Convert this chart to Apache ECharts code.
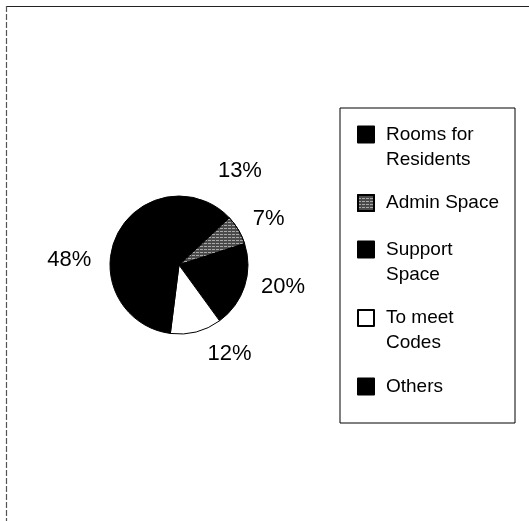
<!DOCTYPE html>
<html>
<head>
<meta charset="utf-8">
<script src="https://cdn.jsdelivr.net/npm/echarts@6/dist/echarts.min.js"></script>
<style>
  html, body { margin: 0; padding: 0; background: #ffffff; }
  #chart { width: 529px; height: 521px; }
</style>
</head>
<body>
<div id="chart"></div>
<script>
// Space allocation by use (percent of total floor area)
const categories = ['Rooms for Residents', 'Admin Space', 'Support Space', 'To meet Codes', 'Others'];
const legendLines = ['Rooms for\nResidents', 'Admin Space', 'Support\nSpace', 'To meet\nCodes', 'Others'];
const shares = [13, 7, 20, 12, 48];

const palette = ['#000000', '#4b4b4b', '#000000', '#ffffff', '#000000'];
const FONT = '"Liberation Sans", Arial, sans-serif';

const chart = echarts.init(document.getElementById('chart'), null, { renderer: 'canvas' });

const pieData = categories.map((name, i) => ({
  name: name,
  value: shares[i],
  itemStyle: i === 1
    ? {
        color: palette[i],
        decal: {
          symbol: 'rect',
          color: 'rgba(200,200,200,0.75)',
          symbolSize: 1,
          dashArrayX: [[3, 1]],
          dashArrayY: [1, 2]
        }
      }
    : { color: palette[i] }
}));

// small nudges of the percentage labels away from the pure radial spot
const labelShift = [[20, 0], [1, 6], [6, -10], [25, -11], [-7, 1]];

// Two-line legend entries: shift the text block so its first line sits beside the swatch
const legendData = categories.map((name, i) => ({
  name: name,
  textStyle: {
    padding: legendLines[i].indexOf('\n') >= 0 ? [0, 0, -25, 7] : [0, 0, 0, 7]
  }
}));

const option = {
  backgroundColor: '#ffffff',
  animation: false,
  graphic: [
    { type: 'line', silent: true, shape: { x1: 6, y1: 6.5, x2: 529, y2: 6.5 }, style: { stroke: '#222', lineWidth: 1.2 } },
    { type: 'line', silent: true, shape: { x1: 6.5, y1: 6, x2: 6.5, y2: 521 }, style: { stroke: '#555', lineWidth: 1.2, lineDash: [6, 2] } }
  ],
  legend: {
    orient: 'vertical',
    left: 340,
    top: 108,
    data: legendData,
    icon: 'rect',
    itemWidth: 16,
    itemHeight: 16,
    itemGap: 21.5,
    padding: [14, 16, 24, 17],
    borderColor: '#000000',
    borderWidth: 1,
    backgroundColor: '#ffffff',
    selectedMode: false,
    formatter: function (name) {
      return legendLines[categories.indexOf(name)]
        .split('\n').map(s => '{t|' + s + '}').join('\n');
    },
    textStyle: {
      fontFamily: FONT,
      fontSize: 19,
      lineHeight: 25,
      color: '#000000',
      rich: {
        t: { fontFamily: FONT, fontSize: 19, lineHeight: 25, color: '#000000' }
      }
    }
  },
  series: [
    {
      name: 'Space',
      type: 'pie',
      center: [179, 265],
      radius: 69,
      startAngle: 90,
      clockwise: true,
      silent: true,
      label: { show: false },
      labelLine: { show: false },
      itemStyle: { borderColor: '#000000', borderWidth: 1 },
      emphasis: { disabled: true },
      data: pieData
    },
    {
      // transparent ring used only to place the percentage labels around the pie
      name: 'Labels',
      type: 'pie',
      center: [179, 265],
      radius: [0, 200],
      startAngle: 90,
      clockwise: true,
      silent: true,
      itemStyle: { color: 'rgba(0,0,0,0)', borderWidth: 0 },
      emphasis: { disabled: true },
      labelLine: { show: false },
      label: {
        show: true,
        position: 'inside',
        formatter: '{c}%',
        fontFamily: FONT,
        fontSize: 22,
        color: '#000000'
      },
      data: categories.map((name, i) => ({
        name: name,
        value: shares[i],
        label: { offset: labelShift[i] }
      }))
    }
  ]
};

chart.setOption(option);
</script>
</body>
</html>
